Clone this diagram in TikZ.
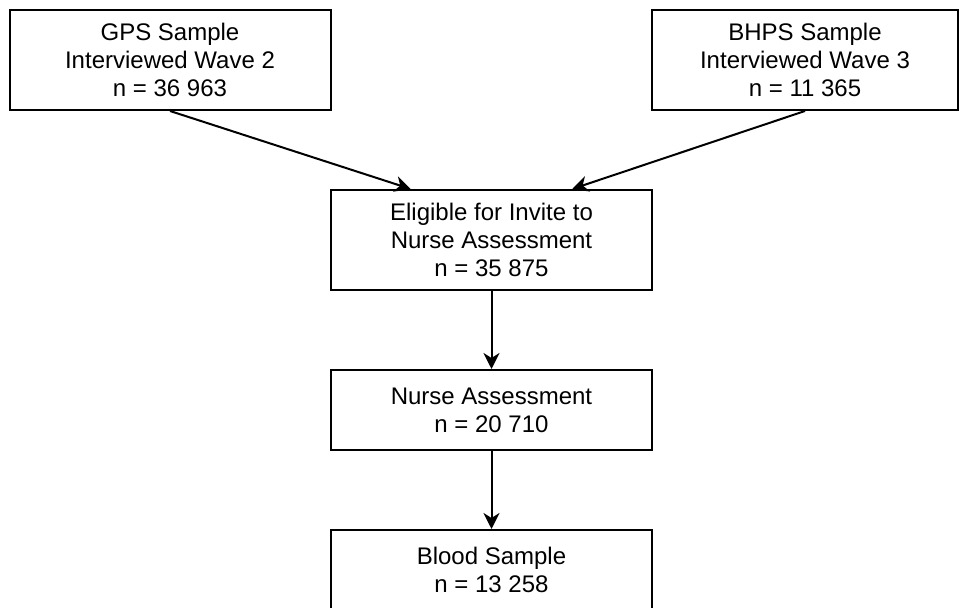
\documentclass[tikz,border=0pt]{standalone}
\usepackage{fontspec}
\setmainfont{Liberation Sans}
\usetikzlibrary{arrows.meta,calc}

\begin{document}
\begin{tikzpicture}[x=0.5pt, y=-0.5pt,
    every node/.style={draw, line width=1pt, minimum width=160.5pt, minimum height=50pt,
      inner sep=0pt, align=center, font=\fontsize{12}{14}\selectfont},
    arrow/.style={line width=1pt, -{Stealth[length=8pt, width=8pt, inset=2.5pt]}}]
    \useasboundingbox (0,0) rectangle (960,608);

    \node (GPS) at (170,60) {GPS Sample\\Interviewed Wave 2\\n = 36 963};
    \node[minimum width=153pt] (BHPS) at (805,60) {BHPS Sample\\Interviewed Wave 3\\n = 11 365};
    \node (ELIG) at (491.5,240) {Eligible for Invite to\\Nurse Assessment\\n = 35 875};
    \node[minimum height=40pt] (NURSE) at (491.5,410) {Nurse Assessment\\n = 20 710};
    \node[minimum height=40pt] (BLOOD) at (491.5,570) {Blood Sample\\n = 13 258};

    \draw[arrow] (GPS.south) -- ($(ELIG.north west)!0.25!(ELIG.north east)$);
    \draw[arrow] (BHPS.south) -- ($(ELIG.north west)!0.75!(ELIG.north east)$);
    \draw[arrow] (ELIG) -- (NURSE);
    \draw[arrow] (NURSE) -- (BLOOD);
\end{tikzpicture}
\end{document}
